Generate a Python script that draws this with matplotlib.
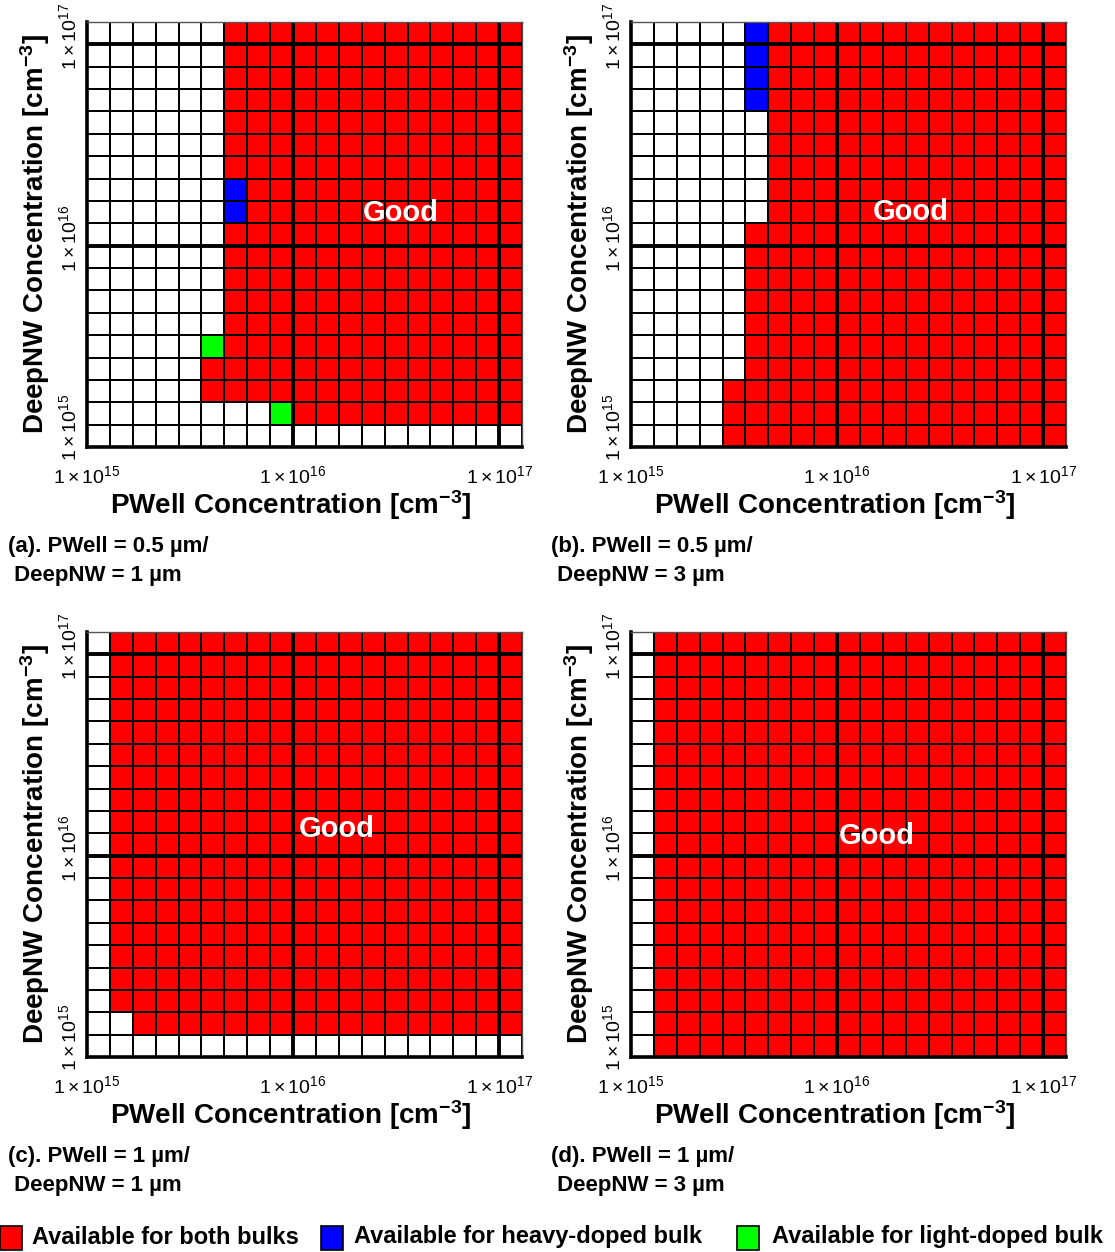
import matplotlib.pyplot as plt
import numpy as np
from matplotlib.colors import ListedColormap
from matplotlib.patches import Rectangle
from matplotlib.transforms import ScaledTranslation

plt.rcParams['font.family'] = ['Liberation Sans', 'DejaVu Sans']
plt.rcParams['mathtext.fontset'] = 'custom'
plt.rcParams['mathtext.rm'] = 'Liberation Sans'
plt.rcParams['mathtext.bf'] = 'Liberation Sans:bold'
plt.rcParams['mathtext.it'] = 'Liberation Sans:italic'

# doping levels on both axes: 1..9 x 1e15, 1..9 x 1e16, 1e17
pwell = [m * 10.0**e for e in (15, 16) for m in range(1, 10)] + [1e17]
deepnw = list(pwell)
decades = [1e15, 1e16, 1e17]
tick_text = [r'$1\times10^{15}$', r'$1\times10^{16}$', r'$1\times10^{17}$']

# cell status, first string = top row (1e17), first char = 1e15 PWell
# W none, R both bulks, B heavy-doped bulk only, G light-doped bulk only
grid_a = ["WWWWWWRRRRRRRRRRRRR"] * 7 + \
         ["WWWWWWBRRRRRRRRRRRR"] * 2 + \
         ["WWWWWWRRRRRRRRRRRRR"] * 5 + \
         ["WWWWWGRRRRRRRRRRRRR"] + \
         ["WWWWWRRRRRRRRRRRRRR"] * 2 + \
         ["WWWWWWWWGRRRRRRRRRR"] + \
         ["WWWWWWWWWWWWWWWWWWW"]
grid_b = ["WWWWWBRRRRRRRRRRRRR"] * 4 + \
         ["WWWWWWRRRRRRRRRRRRR"] * 5 + \
         ["WWWWWRRRRRRRRRRRRRR"] * 7 + \
         ["WWWWRRRRRRRRRRRRRRR"] * 3
grid_c = ["WRRRRRRRRRRRRRRRRRR"] * 17 + \
         ["WWRRRRRRRRRRRRRRRRR"] + \
         ["WWWWWWWWWWWWWWWWWWW"]
grid_d = ["WRRRRRRRRRRRRRRRRRR"] * 19

captions = [("(a). PWell = 0.5 µm/", " DeepNW = 1 µm"),
            ("(b). PWell = 0.5 µm/", " DeepNW = 3 µm"),
            ("(c). PWell = 1 µm/", " DeepNW = 1 µm"),
            ("(d). PWell = 1 µm/", " DeepNW = 3 µm")]
good_pos = [(13.7, 10.45), (12.2, 10.5), (10.9, 10.2), (10.75, 9.9)]

status = {'W': 0, 'R': 1, 'B': 2, 'G': 3}
cmap = ListedColormap(['white', '#ff0000', '#0000ff', '#00ff00'])

W, H = 1115, 1252
fig = plt.figure(figsize=(W / 100, H / 100), dpi=100)

boxes = [(87, 22), (631, 22), (87, 632), (631, 632)]   # left, top in px
aw, ah = 435, 425
grids = [grid_a, grid_b, grid_c, grid_d]
ylab_shift = [14, 5, 6]   # points, y tick labels sit a little above their line

for k, grid in enumerate(grids):
    left, top = boxes[k]
    ax = fig.add_axes([left / W, 1 - (top + ah) / H, aw / W, ah / H])
    codes = np.array([[status[c] for c in row] for row in grid[::-1]])
    ax.pcolormesh(np.arange(len(pwell) + 1), np.arange(len(deepnw) + 1), codes,
                  cmap=cmap, vmin=-0.5, vmax=3.5, edgecolors='black', linewidth=1.2)
    for d in decades[1:]:
        ax.axvline(pwell.index(d), color='black', lw=2.8)
        ax.axhline(deepnw.index(d), color='black', lw=2.8)
    ax.set_xlim(0, len(pwell))
    ax.set_ylim(0, len(deepnw))
    ax.set_xticks([pwell.index(d) for d in decades])
    ax.set_xticklabels(tick_text, fontsize=14)
    ax.set_yticks([deepnw.index(d) for d in decades])
    ax.set_yticklabels([])
    ytr = ax.get_yaxis_transform()
    for d, txt, sh in zip(decades, tick_text, ylab_shift):
        off = ScaledTranslation(-5 / 72, sh / 72, fig.dpi_scale_trans)
        ax.text(0, deepnw.index(d), txt, transform=ytr + off, fontsize=14,
                rotation=90, ha='right', va='center', clip_on=False)
    ax.tick_params(length=0)
    ax.tick_params(axis='x', pad=13)
    for s in ('left', 'bottom'):
        ax.spines[s].set_linewidth(2.6)
    for s in ('top', 'right'):
        ax.spines[s].set_linewidth(1.0)
        ax.spines[s].set_color('#555555')
    ax.text(0.468, -0.137, r'PWell Concentration [cm$^{\mathbf{-3}}$]',
            transform=ax.transAxes, ha='center', va='center',
            fontsize=20, fontweight='bold')
    ax.text(-0.12, 0.5, r'DeepNW Concentration [cm$^{\mathbf{-3}}$]',
            transform=ax.transAxes, ha='center', va='center', rotation=90,
            fontsize=20, fontweight='bold')
    gx, gy = good_pos[k]
    ax.text(gx, gy, 'Good', color='white', ha='center', va='center',
            fontsize=21, fontweight='bold')
    # captions under each panel
    cx = 8 if left < 500 else 551
    cy = top + ah + 89
    fig.text(cx / W, 1 - cy / H, captions[k][0], ha='left', va='top',
             fontsize=16, fontweight='bold')
    fig.text(cx / W, 1 - (cy + 29) / H, captions[k][1], ha='left', va='top',
             fontsize=16, fontweight='bold')

# legend row
legend_items = [('#ff0000', 'Available for both bulks', 0, 32),
                ('#0000ff', 'Available for heavy-doped bulk', 321, 354),
                ('#00ff00', 'Available for light-doped bulk', 737, 772)]
for col, label, sx, tx in legend_items:
    fig.add_artist(Rectangle((sx / W, 1 - 1250 / H), 22 / W, 24 / H,
                             transform=fig.transFigure, facecolor=col,
                             edgecolor='black', linewidth=1.2))
    fig.text(tx / W, 1 - 1237 / H, label, ha='left', va='center',
             fontsize=17, fontweight='bold')

fig.savefig('out.png', dpi=100)
